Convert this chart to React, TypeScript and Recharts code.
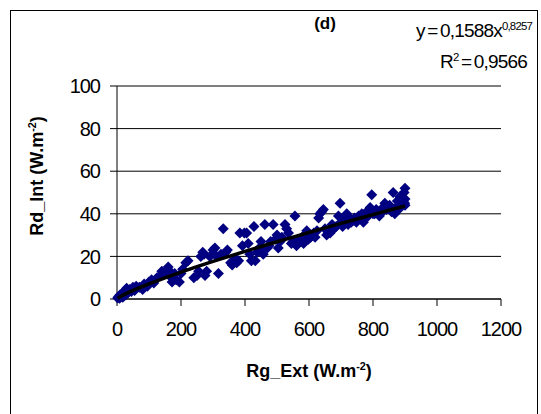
import { CartesianGrid, Scatter, ScatterChart, XAxis, YAxis } from 'recharts';

// Rg_Ext (W.m-2) observed values
const rgExt = [
  2, 5, 8, 10, 12, 15, 18, 20, 22, 25, 28, 30, 35, 40, 45, 50, 55, 60, 70, 80, 85, 95, 100, 108, 115,
  125, 135, 140, 150, 160, 165, 170, 172, 180, 185, 195, 200, 205, 215, 222,
  240, 250, 255, 262, 268, 272, 275, 280, 290, 300, 306, 312, 317, 325, 332,
  340, 345, 355, 360, 365, 370, 374, 380, 384, 392, 398, 405, 410, 415, 420,
  428, 432, 438, 445, 450, 457, 462, 470, 475, 480, 488, 495, 500, 504, 510,
  515, 525, 530, 536, 545, 550, 556, 561, 565, 572, 578, 583, 588, 593, 598,
  605, 610, 615, 619, 625, 630, 634, 640, 645, 650, 655, 660, 666, 672, 678, 685, 692, 697, 700,
  705, 710, 715, 718, 722, 728, 732, 738, 742, 748, 755, 760, 765, 770, 775, 780, 785, 791, 796, 800,
  805, 810, 815, 820, 825, 830, 837, 842, 848, 852, 858, 863, 868, 872, 876, 880, 884, 888, 890, 893,
  895, 897, 900, 900, 900, 899,
];

// Rd_Int (W.m-2) observed values
const rdInt = [
  0.5, 1.2, 0.3, 2, 1, 2.5, 0.8, 3, 1.5, 4, 2, 5, 3, 4.5, 3.5, 5.5, 4, 6, 5.5, 4.5, 7, 6, 8, 9, 7.5,
  10, 11, 13, 12, 15, 13, 10, 8, 12, 9, 8, 12, 14, 17, 18,
  10, 11, 13, 20, 22, 21, 11, 13, 20, 23, 24, 20, 12, 21, 33,
  22, 23, 17, 16, 18, 19, 17, 18, 31, 25, 31, 31, 26, 21, 18,
  34, 18, 22, 24, 27, 21, 35, 24, 25, 27, 35, 28, 30, 24, 27,
  29, 35, 33, 31, 26, 27, 39, 25, 28, 27, 29, 26, 30, 32, 28,
  29, 30, 31, 29, 32, 38, 40, 41, 42, 33, 30, 31, 31, 35, 33, 34, 39, 45, 36,
  34, 37, 36, 40, 35, 38, 36, 37, 38, 36, 39, 38, 40, 36, 38, 41, 39, 43, 49, 40,
  40, 42, 41, 39, 42, 41, 45, 42, 43, 44, 41, 50, 40, 43, 46, 42, 48, 45, 44, 47,
  46, 50, 52, 44, 47, 45,
];

// power trendline y = 0,1588x^0,8257
const trendX = [2, 10, 25, 50, 100, 150, 200, 250, 300, 350, 400, 450, 500, 550, 600, 650, 700, 750, 800, 850, 900];
const trendY = [0.28, 1.06, 2.27, 4.02, 7.12, 9.95, 12.61, 15.17, 17.63, 20.02, 22.36, 24.64, 26.88, 29.08, 31.24, 33.38, 35.49, 37.56, 39.62, 41.65, 43.67];

const xTicks = [0, 200, 400, 600, 800, 1000, 1200];
const yTicks = [0, 20, 40, 60, 80, 100];

const points = rgExt.map((x, i) => ({ x, y: rdInt[i] }));
const trend = trendX.map((x, i) => ({ x, y: trendY[i] }));

const font = 'Liberation Sans, Arial, sans-serif';

const Diamond = (props: any) => {
  const { cx, cy } = props;
  const r = 5.5;
  return (
    <polygon
      points={`${cx},${cy - r} ${cx + r},${cy} ${cx},${cy + r} ${cx - r},${cy}`}
      fill="#000080"
    />
  );
};

const sup = { fontSize: '0.6em', verticalAlign: 'super', lineHeight: 0 } as const;

export default function App() {
  return (
    <div
      style={{
        position: 'absolute',
        left: 0,
        top: 0,
        width: 541,
        height: 414,
        background: '#fff',
        overflow: 'hidden',
        fontFamily: font,
        color: '#000',
      }}
    >
      <div
        style={{
          position: 'absolute',
          left: 10,
          top: 10,
          width: 528,
          height: 410,
          border: '1px solid #000',
          boxSizing: 'border-box',
        }}
      />
      <ScatterChart
        width={541}
        height={414}
        margin={{ top: 86, right: 40, bottom: 85, left: 57 }}
        style={{ position: 'absolute', left: 0, top: 0 }}
      >
        <CartesianGrid vertical={false} stroke="#000" />
        <XAxis
          type="number"
          dataKey="x"
          domain={[0, 1200]}
          ticks={xTicks}
          height={30}
          tickSize={7}
          tickMargin={16}
          stroke="#000"
          tick={{ fill: '#000', fontSize: 20, fontFamily: font, letterSpacing: -1 }}
        />
        <YAxis
          type="number"
          dataKey="y"
          domain={[0, 100]}
          ticks={yTicks}
          width={60}
          tickSize={7}
          tickMargin={10}
          stroke="#000"
          tick={{ fill: '#000', fontSize: 20, fontFamily: font, letterSpacing: -1 }}
        />
        <Scatter data={points} shape={Diamond} isAnimationActive={false} />
        <Scatter
          data={trend}
          line={{ stroke: '#000', strokeWidth: 3.5 }}
          shape={() => <g />}
          isAnimationActive={false}
        />
      </ScatterChart>

      <div
        style={{
          position: 'absolute',
          left: 300,
          top: 15,
          width: 50,
          textAlign: 'center',
          fontSize: 17,
          lineHeight: '17px',
          fontWeight: 'bold',
        }}
      >
        (d)
      </div>
      <div
        style={{
          position: 'absolute',
          right: 9,
          top: 21,
          fontSize: 19,
          lineHeight: '19px',
          letterSpacing: -0.8,
          wordSpacing: -2,
          whiteSpace: 'nowrap',
        }}
      >
        y = 0,1588x<span style={sup}>0,8257</span>
      </div>
      <div
        style={{
          position: 'absolute',
          right: 14,
          top: 52,
          fontSize: 19,
          lineHeight: '19px',
          letterSpacing: -0.8,
          wordSpacing: -2,
          whiteSpace: 'nowrap',
        }}
      >
        R<span style={sup}>2</span> = 0,9566
      </div>
      <div
        style={{
          position: 'absolute',
          left: 209,
          top: 361,
          width: 200,
          textAlign: 'center',
          fontSize: 18,
          lineHeight: '20px',
          fontWeight: 'bold',
          whiteSpace: 'nowrap',
        }}
      >
        Rg_Ext (W.m<span style={sup}>-2</span>)
      </div>
      <div
        style={{
          position: 'absolute',
          left: -63,
          top: 166,
          width: 200,
          textAlign: 'center',
          fontSize: 18,
          lineHeight: '20px',
          fontWeight: 'bold',
          whiteSpace: 'nowrap',
          transform: 'rotate(-90deg)',
        }}
      >
        Rd_Int (W.m<span style={sup}>-2</span>)
      </div>
    </div>
  );
}
